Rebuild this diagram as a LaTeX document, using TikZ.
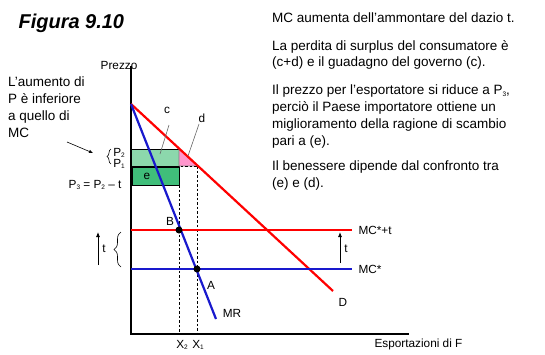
\documentclass[tikz,border=0pt]{standalone}
\usepackage{fontspec}
\setmainfont{Liberation Sans}
\usetikzlibrary{arrows.meta}
\usetikzlibrary{decorations.pathreplacing}
\definecolor{myred}{RGB}{255,0,0}
\definecolor{myblue}{RGB}{25,25,205}
\definecolor{mylightgreen}{RGB}{140,216,172}
\definecolor{mydarkgreen}{RGB}{64,190,122}
\definecolor{mypink}{RGB}{255,150,205}
\newcommand{\bodyfont}{\fontsize{13.5}{16.7}\selectfont}
\newcommand{\labelfont}{\fontsize{11.8}{14}\selectfont}
\newcommand{\lowidx}[1]{\raisebox{-0.2ex}{\fontsize{6.5}{7}\selectfont #1}}

\begin{document}
\begin{tikzpicture}[x=1pt, y=-1pt, >=Latex, font=\labelfont,
    curve/.style={line width=2.2pt},
    guide/.style={dashed, dash pattern=on 2.5pt off 2pt, line width=0.8pt},
    dot/.style={circle, fill=black, inner sep=0pt, minimum size=7pt},
    para/.style={font=\bodyfont, align=left, anchor=north west, inner sep=0pt},
    leader/.style={black!60, line width=0.6pt}]
  \useasboundingbox (0,0) rectangle (545,354);
  % points of the plot
  \coordinate (O) at (131,334);
  \coordinate (ytop) at (131,66);
  \coordinate (xend) at (409,334);
  \coordinate (Dtop) at (131,104);
  \coordinate (Dend) at (333,291);
  \coordinate (MRend) at (216,319);
  \coordinate (mcta) at (131,230);
  \coordinate (mctb) at (352,230);
  \coordinate (mca) at (131,269);
  \coordinate (mcb) at (352,269);
  % areas c, e, d
  \filldraw[fill=mylightgreen, line width=0.8pt] (131,149) rectangle (179,166);
  \filldraw[fill=mydarkgreen, line width=0.8pt] (132,167) rectangle (179,185);
  \filldraw[fill=mypink, draw=black!50, line width=0.6pt] (179,149) -- (179,166) -- (198,166) -- cycle;
  \draw[guide] (131,166) -- (198,166);
  \draw[guide] (179,185) -- (179,334);
  \draw[guide] (197,166) -- (197,334);
  % axes
  \draw[line width=1.2pt] (ytop) -- (O) -- (xend);
  % curves
  \draw[curve, myred] (Dtop) -- (Dend);
  \draw[curve, myblue] (Dtop) -- (MRend);
  \draw[curve, myred] (mcta) -- (mctb);
  \draw[curve, myblue] (mca) -- (mcb);
  \node[dot] (B) at (179,230) {};
  \node[dot] (A) at (197,269) {};
  % labels of the plot
  \node (prezzo) at (119,65) {Prezzo};
  \node (clab) at (167,110) {c};
  \node (dlab) at (202,118) {d};
  \coordinate (ctop) at (169,125);
  \coordinate (cpt) at (160,154);
  \coordinate (dtop) at (199,124);
  \coordinate (dpt) at (188,156);
  \draw[leader] (ctop) -- (cpt);
  \draw[leader] (dtop) -- (dpt);
  \node (elab) at (147,176) {e};
  \node[inner sep=0pt] (ptwo) at (119,153) {P\lowidx{2}};
  \node[inner sep=0pt] (pone) at (119,164) {P\lowidx{1}};
  \draw[decorate, decoration={brace, amplitude=4pt}, line width=0.6pt] (111,164) -- (111,149);
  \node[anchor=east] (pthree) at (125,185) {P\lowidx{3} = P\lowidx{2} – t};
  \node (Blab) at (170,221) {B};
  \node (Alab) at (211,285) {A};
  \node (MRlab) at (232,313) {MR};
  \node (Dlab) at (343,302) {D};
  \node[anchor=west] (mctlab) at (355,230) {MC*+t};
  \node[anchor=west] (mclab) at (355,269) {MC*};
  \node (xtwo) at (182,345) {X\lowidx{2}};
  \node (xone) at (198,345) {X\lowidx{1}};
  \node[anchor=west] (xlab) at (371,344) {Esportazioni di F};
  % the tariff t
  \coordinate (tlbot) at (98,265);
  \coordinate (tltop) at (98,232);
  \coordinate (trbot) at (340,263);
  \coordinate (trtop) at (340,232);
  \draw[-{Latex[length=5pt,width=4pt]}, line width=0.8pt] (tlbot) -- (tltop);
  \draw[-{Latex[length=5pt,width=4pt]}, line width=0.8pt] (trbot) -- (trtop);
  \node (tleft) at (104,249) {t};
  \node (tright) at (346,249) {t};
  \draw[decorate, decoration={brace, amplitude=7pt}, line width=0.6pt] (121,267) -- (121,232);
  % texts
  \node[font=\fontsize{20}{24}\selectfont\bfseries\itshape, anchor=west] (title) at (15,23) {Figura 9.10};
  \node[para] (note) at (8,77) {L’aumento di\\P è inferiore\\a quello di\\MC};
  \coordinate (arrtail) at (67,142);
  \coordinate (arrhead) at (93,153);
  \draw[-{Latex[length=4pt,width=3.5pt]}, line width=0.6pt] (arrtail) -- (arrhead);
  \node[para] (tone) at (272,13) {MC aumenta dell’ammontare del dazio t.};
  \node[para] (ttwo) at (272,40) {La perdita di surplus del consumatore è\\(c+d) e il guadagno del governo (c).};
  \node[para] (tthree) at (272,85) {Il prezzo per l’esportatore si riduce a P\lowidx{3},\\perciò il Paese importatore ottiene un\\miglioramento della ragione di scambio\\pari a (e).};
  \node[para] (tfour) at (272,161) {Il benessere dipende dal confronto tra\\(e) e (d).};
\end{tikzpicture}
\end{document}
